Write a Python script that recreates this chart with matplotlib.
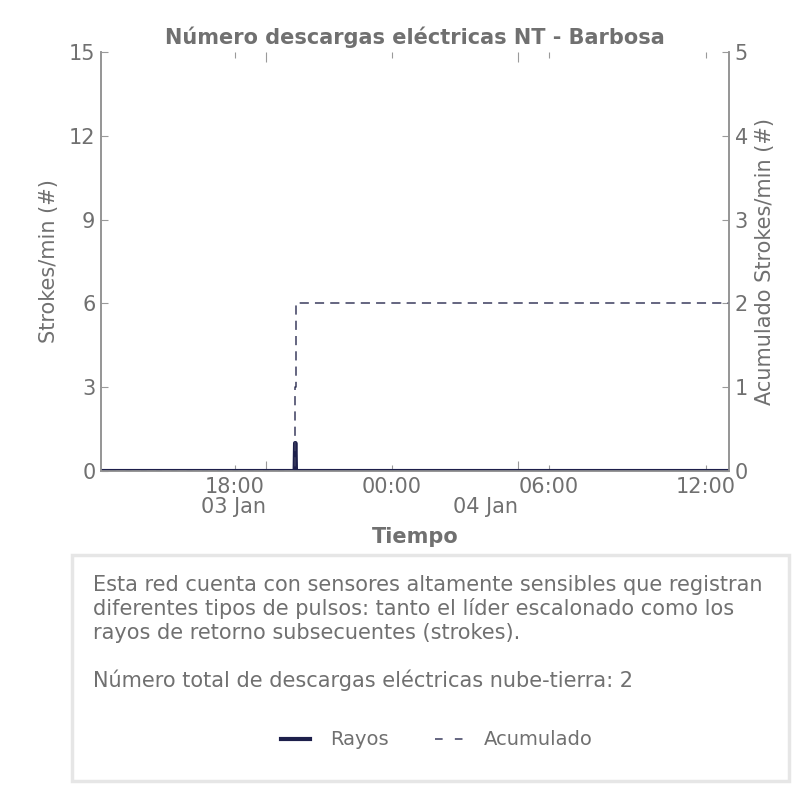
import pandas as pd
import matplotlib
matplotlib.use('Agg')
import matplotlib.pyplot as plt
from matplotlib.patches import Rectangle
from matplotlib.lines import Line2D

# Datos
tiempos = ['2024-01-03 12:53', '2024-01-03 20:17', '2024-01-03 20:18',
           '2024-01-03 20:19', '2024-01-03 20:20', '2024-01-04 12:53']
rayos = [0, 0, 1, 1, 0, 0]
acumulado = [0, 0, 1, 2, 2, 2]

ticks_hora = ['2024-01-03 18:00', '2024-01-04 00:00', '2024-01-04 06:00', '2024-01-04 12:00']
etiquetas_hora = ['18:00', '00:00', '06:00', '12:00']
ticks_dia = ['2024-01-03 19:12', '2024-01-04 04:48']
etiquetas_dia = ['03 Jan', '04 Jan']

texto_info = ("Esta red cuenta con sensores altamente sensibles que registran\n"
              "diferentes tipos de pulsos: tanto el líder escalonado como los\n"
              "rayos de retorno subsecuentes (strokes).\n\n"
              "Número total de descargas eléctricas nube-tierra: 2")

gris = '#707070'
navy = '#1d1f4b'
navy_dash = '#3a3c5e'
fs = 15

t = pd.to_datetime(tiempos)

fig = plt.figure(figsize=(8.06, 8.06), dpi=100)
ax1 = fig.add_axes([0.1253, 0.4156, 0.7792, 0.5199])
ax2 = ax1.twinx()

ax1.plot(t, rayos, '-', color=navy, linewidth=3, label='Rayos', zorder=3)
ax2.step(t, acumulado, where='post', linestyle='--', dashes=(6, 4), color=navy_dash,
         linewidth=1.1, label='Acumulado')

ax1.set_xlim(t[0], t[-1])
ax1.set_ylim(0, 15)
ax1.set_yticks([0, 3, 6, 9, 12, 15])
ax2.set_ylim(0, 5)
ax2.set_yticks([0, 1, 2, 3, 4, 5])

ax1.set_xticks(pd.to_datetime(ticks_dia), labels=etiquetas_dia)
ax1.set_xticks(pd.to_datetime(ticks_hora), labels=etiquetas_hora, minor=True)
for lbl in ax1.get_xticklabels():
    lbl.set_ha('right')

for ax in (ax1, ax2):
    for s in ax.spines.values():
        s.set_color('#959595')
        s.set_linewidth(1.2)
    ax.spines['top'].set_visible(False)
    ax.tick_params(axis='both', which='both', direction='in', colors='#9a9a9a',
                   labelcolor=gris, labelsize=fs)

ax1.tick_params(axis='x', which='both', top=True)
ax1.tick_params(axis='x', which='major', length=7, width=0.8, pad=19)
ax1.tick_params(axis='x', which='minor', length=4, width=0.8, pad=4)
ax1.tick_params(axis='y', length=5, pad=4)
ax2.tick_params(axis='y', length=5, pad=4)

ax1.set_ylabel('Strokes/min (#)', color=gris, fontsize=fs, labelpad=7)
ax2.set_ylabel('Acumulado Strokes/min (#)', color=gris, fontsize=fs, labelpad=5)
ax1.set_xlabel('Tiempo', color=gris, fontsize=fs, fontweight='bold', labelpad=7)
ax1.set_title('Número descargas eléctricas NT - Barbosa', color=gris, fontsize=fs,
              fontweight='bold', pad=6)

# Caja con el texto explicativo
caja = Rectangle((0.0893, 0.031), 0.8896, 0.2804, transform=fig.transFigure,
                 facecolor='white', edgecolor='#e6e6e6', linewidth=2.5)
fig.patches.append(caja)
fig.text(0.1154, 0.2866, texto_info, color=gris, fontsize=fs, va='top', ha='left',
         linespacing=1.2)

handles = [Line2D([], [], color=navy, linewidth=3),
           Line2D([], [], color=navy_dash, linewidth=1.1, linestyle='--', dashes=(5, 8))]
fig.legend(handles, ['Rayos', 'Acumulado'], loc='center', bbox_to_anchor=(0.542, 0.082),
           ncol=2, frameon=False, fontsize=fs - 1, labelcolor=gris,
           handlelength=1.5, columnspacing=2.4, handletextpad=1.0)

fig.savefig('out.png', dpi=100)
